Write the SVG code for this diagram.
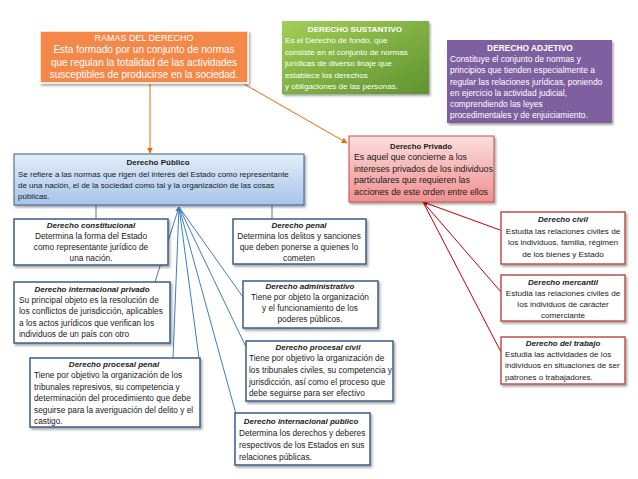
<svg xmlns="http://www.w3.org/2000/svg" width="638" height="479" viewBox="0 0 638 479">
<defs>
<linearGradient id="gGreen" x1="0" y1="0" x2="1" y2="1"><stop offset="0" stop-color="#a3cf57"/><stop offset="1" stop-color="#5f9330"/></linearGradient>
<linearGradient id="gPink" x1="0" y1="0" x2="0" y2="1"><stop offset="0" stop-color="#fbdede"/><stop offset="1" stop-color="#f08f8f"/></linearGradient>
<linearGradient id="gBlue" x1="0" y1="0" x2="0" y2="1"><stop offset="0" stop-color="#e3eefa"/><stop offset="1" stop-color="#a8c4ea"/></linearGradient>
<filter id="sh" x="-10%" y="-10%" width="130%" height="140%"><feDropShadow dx="1.5" dy="2" stdDeviation="1.2" flood-color="#000" flood-opacity="0.35"/></filter>
<marker id="aO" viewBox="0 0 10 10" refX="9" refY="5" markerWidth="6" markerHeight="6" orient="auto"><path d="M0,0 L10,5 L0,10 z" fill="#e46c0a"/></marker>
<marker id="aB" viewBox="0 0 10 10" refX="9" refY="5" markerWidth="5" markerHeight="5" orient="auto-start-reverse"><path d="M0,0 L10,5 L0,10 z" fill="#3f7dc0"/></marker>
<marker id="aR" viewBox="0 0 10 10" refX="9" refY="5" markerWidth="5" markerHeight="5" orient="auto-start-reverse"><path d="M0,0 L10,5 L0,10 z" fill="#c00000"/></marker>
</defs>
<style>
text{font-family:"Liberation Sans",Arial,sans-serif;font-size:8.3px;fill:#1a1a1a}
.w{fill:#fff}
.c{text-anchor:middle}
.b{font-weight:bold}
.bi{font-weight:bold;font-style:italic;font-size:8px}
.o{font-size:10px}
.g{font-size:8.1px}
.p{font-size:8.4px}
.pr{font-size:8.8px}
.prt{font-size:7.8px}
.pu{font-size:8px}
.box{fill:#fff;stroke:#385d8a;stroke-width:1.5;filter:url(#sh)}
.rbox{fill:#fff;stroke:#c0504d;stroke-width:1.5;filter:url(#sh)}
.bl{stroke:#3f7dc0;stroke-width:1;fill:none}
.rl{stroke:#c00000;stroke-width:1;fill:none}
.ol{stroke:#e46c0a;stroke-width:1;fill:none}
</style>

<g id="connectors">
<line class="ol" x1="150" y1="84" x2="150" y2="153" marker-end="url(#aO)"/>
<line class="ol" x1="244" y1="84" x2="347" y2="143" marker-end="url(#aO)"/>
<line class="bl" x1="96" y1="205" x2="96" y2="219"/>
<line class="bl" x1="272" y1="205" x2="272" y2="219"/>
<line class="bl" x1="179" y1="207" x2="155" y2="282" marker-start="url(#aB)"/>
<line class="bl" x1="179" y1="207" x2="173" y2="358"/>
<line class="bl" x1="179" y1="207" x2="199" y2="358"/>
<line class="bl" x1="179" y1="207" x2="236" y2="414"/>
<line class="bl" x1="179" y1="207" x2="246" y2="347"/>
<line class="bl" x1="179" y1="207" x2="243" y2="297"/>
<line class="rl" x1="423" y1="202" x2="500" y2="230" marker-start="url(#aR)"/>
<line class="rl" x1="423" y1="202" x2="501" y2="292"/>
<line class="rl" x1="423" y1="202" x2="501" y2="352"/>
</g>

<g id="ramas">
<rect x="40" y="31" width="208" height="52" fill="#f4884a" stroke="#fff" stroke-width="1.5" filter="url(#sh)"/>
<text class="w c" x="144" y="41" style="font-size:9px">RAMAS DEL DERECHO</text>
<text class="w c o" x="144" y="53">Esta formado por un conjunto de normas</text>
<text class="w c o" x="144" y="65.5">que regulan la totalidad de las actividades</text>
<text class="w c o" x="144" y="78">susceptibles de producirse en la sociedad.</text>
</g>

<g id="sustantivo">
<rect x="282" y="21" width="147" height="73" fill="url(#gGreen)" filter="url(#sh)"/>
<text class="w c b g" x="355" y="32">DERECHO SUSTANTIVO</text>
<text class="w g" x="285" y="43">Es el Derecho de fondo, que</text>
<text class="w g" x="285" y="55">consiste en el conjunto de normas</text>
<text class="w g" x="285" y="66">jurídicas de diverso linaje que</text>
<text class="w g" x="285" y="78">establece los  derechos</text>
<text class="w g" x="285" y="89">y obligaciones  de las personas.</text>
</g>

<g id="adjetivo">
<rect x="447" y="40" width="165" height="83" fill="#7e5fa0" filter="url(#sh)"/>
<text class="w c b p" x="530" y="51">DERECHO ADJETIVO</text>
<text class="w p" x="450" y="62"> Constituye el conjunto de normas y</text>
<text class="w p" x="450" y="73">principios que tienden especialmente a</text>
<text class="w p" x="450" y="85">regular las relaciones jurídicas, poniendo</text>
<text class="w p" x="450" y="96">en ejercicio la actividad judicial,</text>
<text class="w p" x="450" y="107">comprendiendo las leyes</text>
<text class="w p" x="450" y="118">procedimentales y de enjuiciamiento.</text>
</g>

<g id="privado">
<rect x="349" y="136" width="145" height="66" fill="url(#gPink)" stroke="#c0504d" stroke-width="1" filter="url(#sh)"/>
<text class="c b prt" x="421" y="149">Derecho Privado</text>
<text class="pr" x="354" y="160">Es aquel que concierne a los</text>
<text class="pr" x="354" y="172">intereses privados de los individuos</text>
<text class="pr" x="354" y="183">particulares que requieren las</text>
<text class="pr" x="354" y="195">acciones de este orden entre ellos</text>
</g>

<g id="publico">
<rect x="14" y="154" width="290" height="51" fill="url(#gBlue)" stroke="#385d8a" stroke-width="1" filter="url(#sh)"/>
<text class="c b pu" x="158" y="165">Derecho Público</text>
<text class="pu" x="18" y="177">Se refiere a las normas que rigen del interés del Estado como representante</text>
<text class="pu" x="18" y="188">de una nación, el de la sociedad como tal y la organización de las cosas</text>
<text class="pu" x="18" y="199">públicas.</text>
</g>

<g id="constitucional">
<rect class="box" x="14" y="219" width="154" height="46"/>
<text class="c bi" x="91" y="228">Derecho constitucional</text>
<text class="c" x="91" y="239">Determina la forma del Estado</text>
<text class="c" x="91" y="250">como representante jurídico de</text>
<text class="c" x="91" y="261">una nación.</text>
</g>

<g id="penal">
<rect class="box" x="233" y="219" width="133" height="45"/>
<text class="c bi" x="299" y="228">Derecho penal</text>
<text class="c" x="299" y="239">Determina los delitos y sanciones</text>
<text class="c" x="299" y="250">que deben ponerse a quienes lo</text>
<text class="c" x="299" y="261">cometen</text>
</g>

<g id="int-privado">
<rect class="box" x="14" y="282" width="156" height="61"/>
<text class="c bi" x="92" y="292">Derecho internacional privado</text>
<text x="19" y="303">Su principal objeto es la resolución de</text>
<text x="19" y="314">los conflictos de jurisdicción, aplicables</text>
<text x="19" y="326">a los actos jurídicos que verifican los</text>
<text x="19" y="337">individuos de un país con otro</text>
</g>

<g id="administrativo">
<rect class="box" x="243" y="281" width="135" height="47"/>
<text class="c bi" x="310" y="289">Derecho administrativo</text>
<text class="c" x="310" y="300">Tiene por objeto la organización</text>
<text class="c" x="310" y="311">y el funcionamiento de los</text>
<text class="c" x="310" y="322">poderes públicos.</text>
</g>

<g id="procesal-penal">
<rect class="box" x="30" y="358" width="170" height="69"/>
<text class="c bi" x="114" y="367">Derecho procesal penal</text>
<text x="34" y="378">Tiene por objetivo la organización de los</text>
<text x="34" y="390">tribunales represivos, su competencia y</text>
<text x="34" y="401">determinación del procedimiento que debe</text>
<text x="34" y="413">seguirse para la averiguación del delito y el</text>
<text x="34" y="424">castigo.</text>
</g>

<g id="procesal-civil">
<rect class="box" x="246" y="341" width="147" height="60"/>
<text class="c bi" x="318" y="350">Derecho procesal civil</text>
<text x="249" y="361"> Tiene por objetivo la organización de</text>
<text x="249" y="373">los tribunales civiles, su competencia y</text>
<text x="249" y="385">jurisdicción, así como el proceso que</text>
<text x="249" y="396">debe seguirse para ser efectivo</text>
</g>

<g id="int-publico">
<rect class="box" x="235" y="413" width="135" height="52"/>
<text class="c bi" x="301" y="424">Derecho internacional público</text>
<text x="239" y="436">Determina los derechos y deberes</text>
<text x="239" y="448">respectivos de los Estados en sus</text>
<text x="239" y="460">relaciones públicas.</text>
</g>

<g id="civil">
<rect class="rbox" x="501" y="212" width="124" height="52"/>
<text class="c bi" x="563" y="222">Derecho civil</text>
<text class="c" x="563" y="234" style="font-size:8.1px">Estudia las relaciones civiles de</text>
<text class="c" x="563" y="245" style="font-size:8.1px">los individuos, familia, régimen</text>
<text class="c" x="563" y="257" style="font-size:8.1px">de los bienes y Estado</text>
</g>

<g id="mercantil">
<rect class="rbox" x="501" y="275" width="124" height="46"/>
<text class="c bi" x="563" y="285">Derecho mercantil</text>
<text class="c" x="563" y="296" style="font-size:8.1px">Estudia las relaciones civiles de</text>
<text class="c" x="563" y="307" style="font-size:8.1px">los individuos de carácter</text>
<text class="c" x="563" y="318" style="font-size:8.1px">comerciante</text>
</g>

<g id="trabajo">
<rect class="rbox" x="501" y="337" width="124" height="47"/>
<text class="c bi" x="563" y="346">Derecho del trabajo</text>
<text x="505" y="357" style="font-size:8.1px">Estudia las actividades de los</text>
<text x="505" y="368" style="font-size:8.1px">individuos en situaciones de ser</text>
<text x="505" y="380" style="font-size:8.1px">patrones o trabajadores.</text>
</g>
</svg>
